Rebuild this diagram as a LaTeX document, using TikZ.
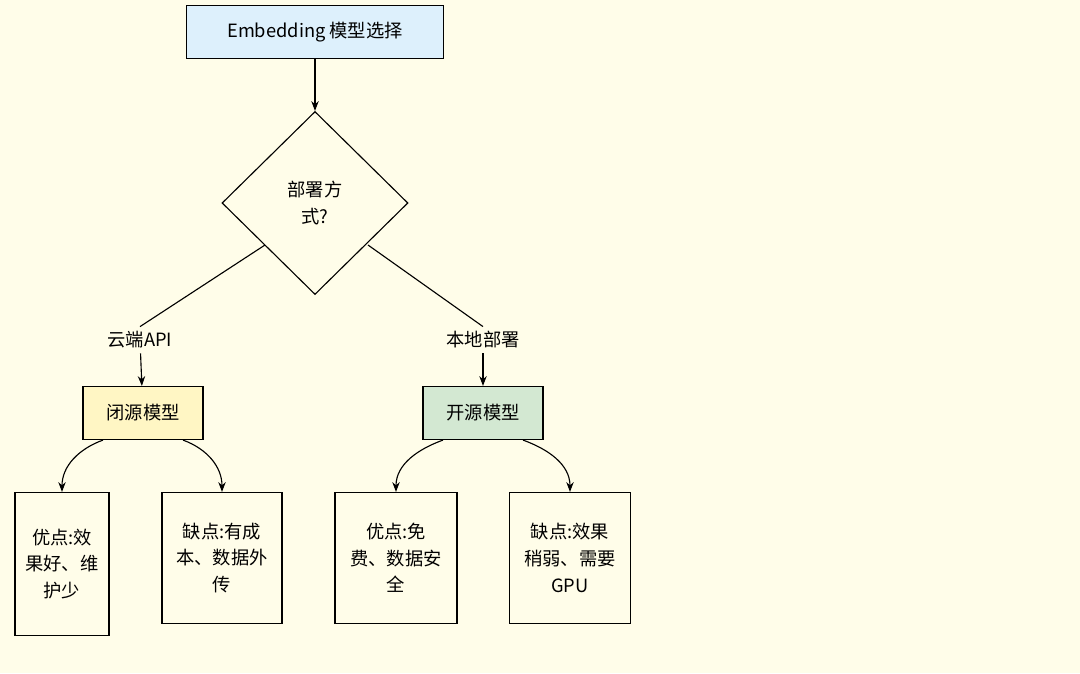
\documentclass[tikz,border=0pt]{standalone}
\usepackage{fontspec}
\setmainfont{Noto Sans CJK SC}
\usetikzlibrary{positioning,shapes.geometric,arrows.meta}
\definecolor{paper}{HTML}{FFFDE9}
\definecolor{topblue}{HTML}{DDF0FC}
\definecolor{closedyel}{HTML}{FFF6C4}
\definecolor{opengreen}{HTML}{D3E8D2}
\begin{document}
\begin{tikzpicture}[x=0.025cm,y=-0.025cm,
    font=\fontsize{13}{19}\selectfont,
    box/.style={draw,thick,align=center},
    leaf/.style={box,fill=paper,inner sep=0pt},
    arr/.style={thick,-{Stealth[length=7pt]}}]
    % Hintergrund
    \fill[paper] (0,0) rectangle (1080,673);
    \useasboundingbox (0,0) rectangle (1080,673);

    % Knoten
    \node[box,fill=topblue,minimum width=257*0.025cm,minimum height=53*0.025cm] (top) at (315,32) {Embedding 模型选择};
    \node[diamond,draw,thick,fill=paper,minimum width=186*0.025cm,minimum height=183*0.025cm,inner sep=0pt,align=center] (way) at (315,203) {部署方\\式?};
    \node (cloud) at (140,340) {云端API};
    \node (local) at (483,340) {本地部署};
    \node[box,fill=closedyel,minimum width=120*0.025cm,minimum height=53*0.025cm] (closed) at (143,413) {闭源模型};
    \node[box,fill=opengreen,minimum width=120*0.025cm,minimum height=53*0.025cm] (open) at (483,413) {开源模型};
    \node[leaf,minimum width=94*0.025cm,minimum height=143*0.025cm] (c1) at (62,564) {优点:效\\果好、维\\护少};
    \node[leaf,minimum width=120*0.025cm,minimum height=131*0.025cm] (c2) at (222,558) {缺点:有成\\本、数据外\\传};
    \node[leaf,minimum width=122*0.025cm,minimum height=131*0.025cm] (o1) at (396,558) {优点:免\\费、数据安\\全};
    \node[leaf,minimum width=121*0.025cm,minimum height=131*0.025cm] (o2) at (570,558) {缺点:效果\\稍弱、需要\\GPU};

    % Verbindungen
    \draw[arr] (top) -- (way);
    \coordinate (wl) at (265,245);
    \coordinate (wr) at (368,245);
    \draw[thick] (wl) -- (cloud.north);
    \draw[thick] (wr) -- (local.north);
    \draw[arr] (cloud) -- (closed);
    \draw[arr] (local) -- (open);
    \draw[arr] (closed.south) ++(-40,0) to[out=200,in=90] (c1.north);
    \draw[arr] (closed.south) ++(40,0) to[out=-20,in=90] (c2.north);
    \draw[arr] (open.south) ++(-40,0) to[out=200,in=90] (o1.north);
    \draw[arr] (open.south) ++(40,0) to[out=-20,in=90] (o2.north);
\end{tikzpicture}
\end{document}
